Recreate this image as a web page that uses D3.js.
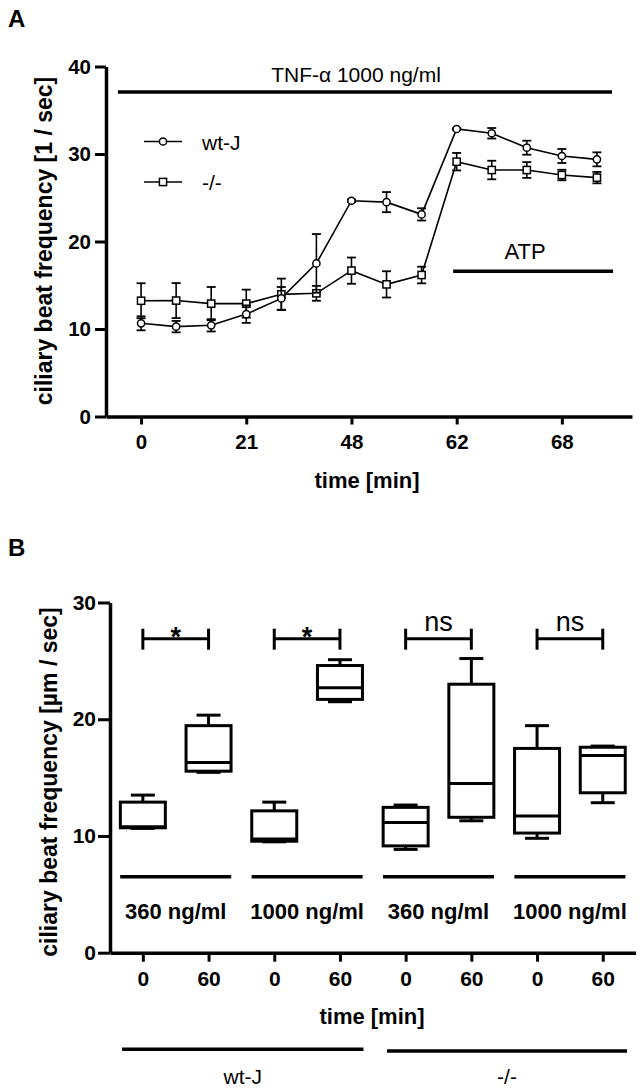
<!DOCTYPE html>
<html><head><meta charset="utf-8">
<script src="https://cdn.jsdelivr.net/npm/d3@7"></script>
<style>body{margin:0;background:#fff}svg{display:block}text{font-family:"Liberation Sans",Arial,sans-serif;fill:#000}</style>
</head><body>
<script>
// ---------- Panel A data ----------
const timeIndex = [0,1,2,3,4,5,6,7,8,9,10,11,12,13];
const timeTickIndex = [0,3,6,9,12];
const timeTickLabels = ["0","21","48","62","68"];
const wtMean = [10.65,10.27,10.42,11.7,13.5,17.5,24.66,24.5,23.1,32.86,32.37,30.72,29.77,29.39];
const wtErr  = [0.8,0.65,0.7,1.0,1.3,3.35,0.15,1.15,0.7,0.1,0.6,0.8,0.8,0.8];
const koMean = [13.23,13.25,12.9,12.9,13.96,14.08,16.67,15.1,16.17,29.12,28.17,28.17,27.6,27.3];
const koErr  = [2.0,2.0,1.9,1.6,1.8,0.85,1.5,1.5,0.95,1.0,1.06,0.9,0.6,0.65];
const yTicksA = [0,10,20,30,40];

// ---------- Panel B data ----------
const boxTimeLabels = ["0","60","0","60","0","60","0","60"];
const bMin = [10.65,15.45,9.5,21.5,8.85,11.3,9.8,12.85];
const bQ1  = [10.7,15.55,9.55,21.7,9.15,11.6,10.25,13.7];
const bMed = [10.8,16.3,9.75,22.7,11.15,14.5,11.7,16.9];
const bQ3  = [12.9,19.45,12.15,24.6,12.45,23.0,17.5,17.6];
const bMax = [13.5,20.35,12.9,25.1,12.65,25.2,19.45,17.7];
const doseLabels = ["360 ng/ml","1000 ng/ml","360 ng/ml","1000 ng/ml"];
const sigLabels = ["*","*","ns","ns"];
const groupLabels = ["wt-J","-/-"];
const yTicksB = [0,10,20,30];

const W = 644, H = 1091;
const svg = d3.select("body").append("svg").attr("width", W).attr("height", H);

// ================= Panel A =================
const xA = d3.scaleLinear().domain([-1, 14]).range([106, 632]);
const yA = d3.scaleLinear().domain([0, 40]).range([416.5, 66.5]);

svg.append("text").attr("x", 8).attr("y", 27).attr("font-size", 24).attr("font-weight", "bold").text("A");

const axA_y = svg.append("g").attr("transform", "translate(106,0)")
  .call(d3.axisLeft(yA).tickValues(yTicksA).tickSize(11).tickSizeOuter(0).tickPadding(4));
const axA_x = svg.append("g").attr("transform", "translate(0,416.5)")
  .call(d3.axisBottom(xA).tickValues(timeTickIndex).tickSize(8).tickSizeOuter(0).tickPadding(10)
    .tickFormat((d, i) => timeTickLabels[i]));
[axA_y, axA_x].forEach(g => {
  g.select(".domain").attr("stroke-width", 3.5).attr("stroke", "#000");
  g.selectAll(".tick line").attr("stroke-width", 3).attr("stroke", "#000");
  g.selectAll(".tick text").attr("font-size", 20.5).attr("font-weight", "bold")
    .attr("font-family", "Liberation Sans, Arial, sans-serif").attr("fill", "#000");
});

svg.append("text").attr("transform", "translate(52,241) rotate(-90)").attr("text-anchor", "middle")
  .attr("font-size", 23).attr("font-weight", "bold").text("ciliary beat frequency [1 / sec]");
svg.append("text").attr("x", 367).attr("y", 488).attr("text-anchor", "middle")
  .attr("font-size", 22).attr("font-weight", "bold").text("time [min]");

// annotation bars
svg.append("line").attr("x1", xA(-0.66)).attr("x2", xA(13.43)).attr("y1", yA(37.1)).attr("y2", yA(37.1))
  .attr("stroke", "#000").attr("stroke-width", 3.5);
svg.append("text").attr("x", 356).attr("y", 82).attr("text-anchor", "middle").attr("font-size", 21)
  .text("TNF-α 1000 ng/ml");
svg.append("line").attr("x1", xA(8.9)).attr("x2", xA(13.46)).attr("y1", yA(16.6)).attr("y2", yA(16.6))
  .attr("stroke", "#000").attr("stroke-width", 3.5);
svg.append("text").attr("x", 525).attr("y", 259).attr("text-anchor", "middle").attr("font-size", 22).text("ATP");

function drawSeries(mean, err, shape) {
  const g = svg.append("g");
  const line = d3.line().x((d, i) => xA(timeIndex[i])).y(d => yA(d));
  g.append("path").datum(mean).attr("d", line).attr("fill", "none").attr("stroke", "#000").attr("stroke-width", 1.6);
  timeIndex.forEach((t, i) => {
    const x = xA(t), y1 = yA(mean[i] + err[i]), y2 = yA(mean[i] - err[i]);
    g.append("line").attr("x1", x).attr("x2", x).attr("y1", y1).attr("y2", y2).attr("stroke", "#000").attr("stroke-width", 1.6);
    [y1, y2].forEach(y => g.append("line").attr("x1", x - 4.5).attr("x2", x + 4.5).attr("y1", y).attr("y2", y)
      .attr("stroke", "#000").attr("stroke-width", 1.8));
  });
  timeIndex.forEach((t, i) => marker(g, xA(t), yA(mean[i]), shape));
}
function marker(g, x, y, shape) {
  if (shape === "circle") {
    g.append("circle").attr("cx", x).attr("cy", y).attr("r", 3.6).attr("fill", "#fff").attr("stroke", "#000").attr("stroke-width", 1.5);
  } else {
    g.append("rect").attr("x", x - 3.6).attr("y", y - 3.6).attr("width", 7.2).attr("height", 7.2)
      .attr("fill", "#fff").attr("stroke", "#000").attr("stroke-width", 1.5);
  }
}
drawSeries(koMean, koErr, "square");
drawSeries(wtMean, wtErr, "circle");

// legend
[["wt-J", "circle", 141.5], ["-/-", "square", 182]].forEach(([lab, shp, y]) => {
  const g = svg.append("g");
  g.append("line").attr("x1", 144).attr("x2", 182).attr("y1", y).attr("y2", y).attr("stroke", "#000").attr("stroke-width", 1.6);
  marker(g, 163, y, shp);
  g.append("text").attr("x", 202).attr("y", y + 8).attr("font-size", 21).text(lab);
});

// ================= Panel B =================
const xB = d3.scaleLinear().domain([-0.5, 7.5]).range([110, 635.6]);
const yB = d3.scaleLinear().domain([0, 30]).range([952.7, 602.5]);
const boxIdx = [0,1,2,3,4,5,6,7];

svg.append("text").attr("x", 8).attr("y", 556).attr("font-size", 24).attr("font-weight", "bold").text("B");

const axB_y = svg.append("g").attr("transform", "translate(110,0)")
  .call(d3.axisLeft(yB).tickValues(yTicksB).tickSize(12).tickSizeOuter(0).tickPadding(2));
const axB_x = svg.append("g").attr("transform", "translate(0,952.7)")
  .call(d3.axisBottom(xB).tickValues(boxIdx).tickSize(9).tickSizeOuter(0).tickPadding(9)
    .tickFormat((d, i) => boxTimeLabels[i]));
[axB_y, axB_x].forEach(g => {
  g.select(".domain").attr("stroke-width", 3.5).attr("stroke", "#000");
  g.selectAll(".tick line").attr("stroke-width", 3).attr("stroke", "#000");
  g.selectAll(".tick text").attr("font-size", 21).attr("font-weight", "bold")
    .attr("font-family", "Liberation Sans, Arial, sans-serif").attr("fill", "#000");
});

svg.append("text").attr("transform", "translate(57,782) rotate(-90)").attr("text-anchor", "middle")
  .attr("font-size", 23).attr("font-weight", "bold").text("ciliary beat frequency [µm / sec]");
svg.append("text").attr("x", 372).attr("y", 1024).attr("text-anchor", "middle")
  .attr("font-size", 22).attr("font-weight", "bold").text("time [min]");

// boxes
const bw = 22.5, cw = 12;
boxIdx.forEach(i => {
  const g = svg.append("g").attr("stroke", "#000").attr("stroke-width", 3).attr("fill", "none");
  const x = xB(i);
  g.append("line").attr("x1", x).attr("x2", x).attr("y1", yB(bMax[i])).attr("y2", yB(bQ3[i]));
  g.append("line").attr("x1", x).attr("x2", x).attr("y1", yB(bQ1[i])).attr("y2", yB(bMin[i]));
  g.append("line").attr("x1", x - cw).attr("x2", x + cw).attr("y1", yB(bMax[i])).attr("y2", yB(bMax[i]));
  g.append("line").attr("x1", x - cw).attr("x2", x + cw).attr("y1", yB(bMin[i])).attr("y2", yB(bMin[i]));
  g.append("rect").attr("x", x - bw).attr("width", 2 * bw).attr("y", yB(bQ3[i])).attr("height", yB(bQ1[i]) - yB(bQ3[i]));
  g.append("line").attr("x1", x - bw).attr("x2", x + bw).attr("y1", yB(bMed[i])).attr("y2", yB(bMed[i]));
});

// significance brackets
sigLabels.forEach((lab, k) => {
  const a = xB(2 * k), b = xB(2 * k + 1), y = yB(26.9);
  const g = svg.append("g").attr("stroke", "#000").attr("stroke-width", 3);
  g.append("line").attr("x1", a).attr("x2", b).attr("y1", y).attr("y2", y);
  g.append("line").attr("x1", a).attr("x2", a).attr("y1", y - 10).attr("y2", y + 11);
  g.append("line").attr("x1", b).attr("x2", b).attr("y1", y - 10).attr("y2", y + 11);
  if (lab === "*") {
    svg.append("text").attr("x", (a + b) / 2).attr("y", 646).attr("text-anchor", "middle")
      .attr("font-size", 27).attr("font-weight", "bold").text(lab);
  } else {
    svg.append("text").attr("x", (a + b) / 2).attr("y", 631).attr("text-anchor", "middle")
      .attr("font-size", 27).text(lab);
  }
});

// dose lines and labels
doseLabels.forEach((lab, k) => {
  const a = xB(2 * k - 0.345), b = xB(2 * k + 1.345), y = yB(6.5);
  svg.append("line").attr("x1", a).attr("x2", b).attr("y1", y).attr("y2", y).attr("stroke", "#000").attr("stroke-width", 3.5);
  svg.append("text").attr("x", xB(2 * k + 0.5)).attr("y", 918.5).attr("text-anchor", "middle")
    .attr("font-size", 22).attr("font-weight", "bold").text(lab);
});

// group lines
const groupSpan = [[-0.317, 3.358, 1049.3], [3.716, 7.37, 1051]];
groupLabels.forEach((lab, k) => {
  const [s, e, y] = groupSpan[k];
  svg.append("line").attr("x1", xB(s)).attr("x2", xB(e)).attr("y1", y).attr("y2", y).attr("stroke", "#000").attr("stroke-width", 3.5);
  svg.append("text").attr("x", (xB(s) + xB(e)) / 2).attr("y", 1084).attr("text-anchor", "middle").attr("font-size", 21).text(lab);
});
</script>
</body></html>
